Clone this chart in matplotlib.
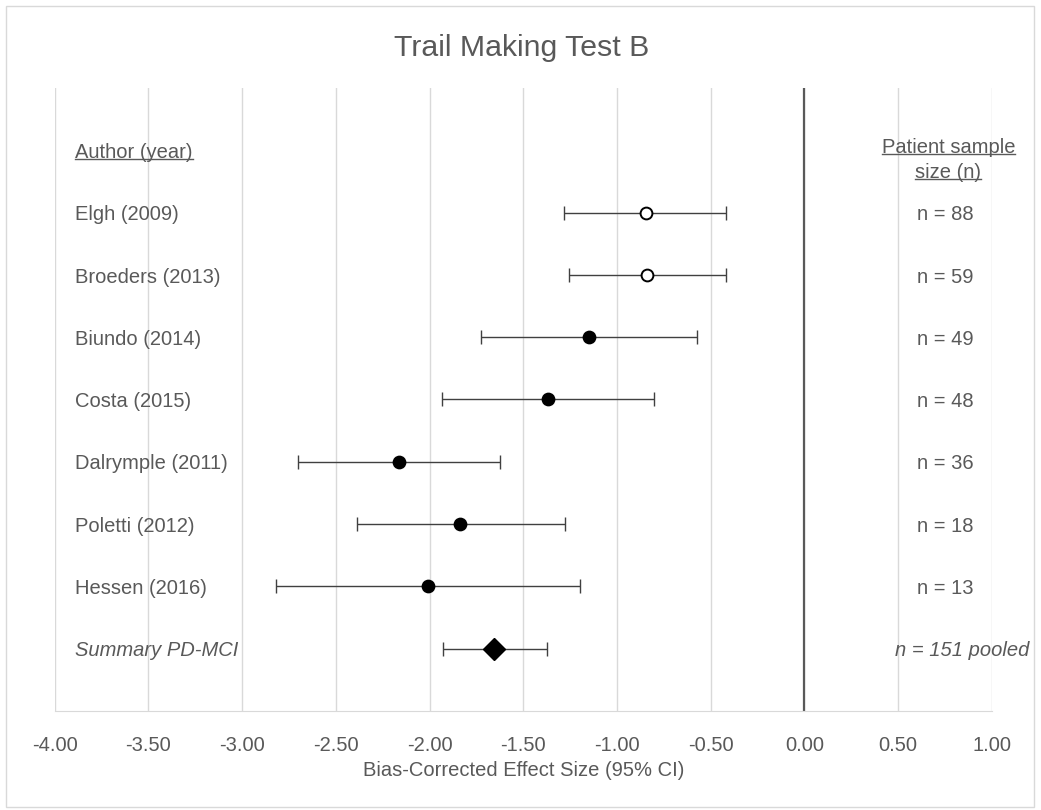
import numpy as np
import matplotlib
matplotlib.use("Agg")
import matplotlib.pyplot as plt
from matplotlib.lines import Line2D
from matplotlib.patches import Rectangle

# studies, top to bottom
authors = ["Elgh (2009)", "Broeders (2013)", "Biundo (2014)", "Costa (2015)",
           "Dalrymple (2011)", "Poletti (2012)", "Hessen (2016)"]
effect = [-0.845, -0.84, -1.15, -1.37, -2.165, -1.835, -2.01]
ci_low = [-1.28, -1.255, -1.725, -1.935, -2.70, -2.385, -2.82]
ci_high = [-0.42, -0.42, -0.575, -0.80, -1.625, -1.275, -1.195]
n_patients = [88, 59, 49, 48, 36, 18, 13]
hollow = [True, True, False, False, False, False, False]

# pooled estimate
summary_label = "Summary PD-MCI"
summary_effect = -1.655
summary_low = -1.93
summary_high = -1.372
summary_n = 151

xticks = np.arange(-4.0, 1.01, 0.5)

txt = "#595959"
plt.rcParams['font.family'] = ['Liberation Sans', 'DejaVu Sans']

fig = plt.figure(figsize=(10.41, 8.10), dpi=100)
ax = fig.add_axes([0.0526, 0.1222, 0.9001, 0.7692])

rows = np.arange(len(authors), 0, -1) + 1   # 8 .. 2
ax.set_xlim(-4.0, 1.0)
ax.set_ylim(0, 10)

for xv in xticks:
    ax.axvline(xv, color="#d9d9d9", lw=1.0, zorder=0)
ax.axvline(0, color="#595959", lw=1.6, zorder=1)

for y, e, lo, hi, h in zip(rows, effect, ci_low, ci_high, hollow):
    ax.errorbar(e, y, xerr=[[e - lo], [hi - e]], fmt="none", ecolor="#404040",
                elinewidth=1.0, capsize=5, capthick=1.0, zorder=2)
    ax.plot(e, y, "o", ms=8.5, mfc="white" if h else "black", mec="black",
            mew=1.4, zorder=3)

ax.errorbar(summary_effect, 1, xerr=[[summary_effect - summary_low], [summary_high - summary_effect]],
            fmt="none", ecolor="#404040", elinewidth=1.0, capsize=5, capthick=1.0, zorder=2)
ax.plot(summary_effect, 1, "D", ms=11.5, color="black", zorder=3)

# text columns (small nudge down so the text sits on the bar lines)
lab_x = -3.89
n_x = 0.75
fs = 14.5
dy = -0.035
head1 = ax.text(lab_x, 9 + dy, "Author (year)", ha="left", va="center", fontsize=fs, color=txt)
for y, a, n in zip(rows, authors, n_patients):
    ax.text(lab_x, y + dy, a, ha="left", va="center", fontsize=fs, color=txt)
    ax.text(n_x, y + dy, "n = %d" % n, ha="center", va="center", fontsize=fs, color=txt)
ax.text(lab_x, 1 + dy, summary_label, ha="left", va="center", fontsize=fs, color=txt, style="italic")
ax.text(0.84, 1 + dy, "n = %d pooled" % summary_n, ha="center", va="center", fontsize=fs,
        color=txt, style="italic")
head2 = ax.text(0.768, 9.08 + dy, "Patient sample", ha="center", va="center", fontsize=fs, color=txt)
head3 = ax.text(0.768, 8.68 + dy, "size (n)", ha="center", va="center", fontsize=fs, color=txt)

ax.set_xticks(xticks)
ax.set_xticklabels(["%.2f" % v for v in xticks])
ax.set_yticks([])
ax.tick_params(axis="x", length=0, pad=18, labelsize=fs, labelcolor=txt)
for s in ["top", "left", "right"]:
    ax.spines[s].set_visible(False)
ax.spines["bottom"].set_color("#d9d9d9")
ax.set_xlabel("Bias-Corrected Effect Size (95% CI)", fontsize=fs, color=txt, labelpad=4)

fig.text(0.5015, 0.941, "Trail Making Test B", ha="center", va="center", fontsize=21.8, color=txt)

# outer frame
fig.add_artist(Rectangle((6 / 1041, 3 / 810), 1028 / 1041, 801 / 810, transform=fig.transFigure,
                         fill=False, ec="#d9d9d9", lw=1.0))

# underline the column headers
fig.canvas.draw()
r = fig.canvas.get_renderer()
inv = fig.transFigure.inverted()
for t in [head1, head2, head3]:
    bb = t.get_window_extent(r)
    y0 = bb.y0 + 3.0
    (x0f, y0f), (x1f, _) = inv.transform([(bb.x0, y0), (bb.x1, y0)])
    fig.add_artist(Line2D([x0f, x1f], [y0f, y0f], transform=fig.transFigure,
                          color=txt, lw=1.0))

fig.savefig("out.png", dpi=100, facecolor="white")
